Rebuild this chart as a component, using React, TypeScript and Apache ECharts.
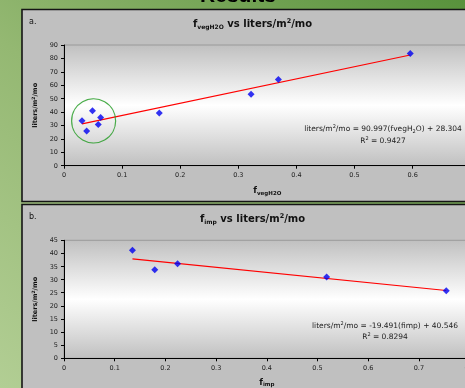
import { useEffect, useRef } from "react";
import * as echarts from "echarts";

const W = 465;
const H = 388;
const FONT = "DejaVu Sans";

// ---------- Panel a: f_vegH2O vs liters/m2/mo ----------
const vegFraction = [0.031, 0.039, 0.049, 0.059, 0.063, 0.164, 0.322, 0.369, 0.596];
const vegLiters = [33.5, 25.8, 41.0, 30.8, 36.0, 39.3, 53.2, 64.3, 83.7];
const vegFit = [90.997, 28.304]; // slope, intercept
const vegR2 = "0.9427";
const vegCluster = [0.051, 33.4];
const vegXRange = [0, 0.7, 0.1];
const vegYRange = [0, 90, 10];

// ---------- Panel b: f_imp vs liters/m2/mo ----------
const impFraction = [0.135, 0.179, 0.224, 0.518, 0.754];
const impLiters = [41.2, 33.8, 36.1, 31.0, 25.8];
const impFit = [-19.491, 40.546];
const impR2 = "0.8294";
const impXRange = [0, 0.8, 0.1];
const impYRange = [0, 45, 5];

const fitLine = (xs: number[], fit: number[]) => {
  const lo = Math.min(...xs);
  const hi = Math.max(...xs);
  return [
    [lo, fit[0] * lo + fit[1]],
    [hi, fit[0] * hi + fit[1]],
  ];
};

const tok = (size: number, bold: boolean, extra: any = {}) => ({
  fontSize: size,
  fontFamily: FONT,
  fontWeight: bold ? "bold" : "normal",
  fill: "#111",
  color: "#111",
  ...extra,
});

const titleRich = {
  m: tok(10, true, { lineHeight: 12, verticalAlign: "middle" }),
  sub: tok(6, true, { lineHeight: 7, verticalAlign: "bottom" }),
  sup: tok(6.5, true, { lineHeight: 7, verticalAlign: "top" }),
};

const eqRich = {
  n: tok(7.5, false, { lineHeight: 10, verticalAlign: "middle", fill: "#222", color: "#222" }),
  sub: tok(5, false, { lineHeight: 6, verticalAlign: "bottom", fill: "#222", color: "#222" }),
  sup: tok(5, false, { lineHeight: 6, verticalAlign: "top", fill: "#222", color: "#222" }),
};

const yNameRich = {
  n: tok(6.5, true, { lineHeight: 9, verticalAlign: "middle" }),
  sup: tok(4.5, true, { lineHeight: 5, verticalAlign: "top" }),
};

const xNameRich = {
  f: tok(8.5, true, { lineHeight: 11, verticalAlign: "middle" }),
  s: tok(5.5, true, { lineHeight: 6, verticalAlign: "bottom" }),
};

const plotBg = () =>
  new echarts.graphic.LinearGradient(0, 0, 0, 1, [
    { offset: 0, color: "#c0c0c0" },
    { offset: 0.5, color: "#ffffff" },
    { offset: 1, color: "#c0c0c0" },
  ]);

const fmt = (v: number) => String(Math.round(v * 10) / 10);

const valueAxisBase = {
  type: "value" as const,
  splitLine: { show: false },
  axisLine: { show: true, lineStyle: { color: "#000", width: 1 } },
  axisTick: { show: true, length: 3, inside: false, lineStyle: { color: "#000" } },
  axisLabel: { fontSize: 6.5, fontFamily: FONT, color: "#222", margin: 6, formatter: fmt },
};

export default function App() {
  const ref = useRef<HTMLDivElement>(null);

  useEffect(() => {
    if (!ref.current) return;
    const chart = echarts.init(ref.current, undefined, { renderer: "svg" });

    const option: any = {
      animation: false,
      grid: [
        {
          left: 64,
          top: 45,
          width: 406.7,
          height: 120.7,
          containLabel: false,
          outerBoundsMode: "none",
          show: true,
          backgroundColor: plotBg(),
          borderColor: "#9a9a9a",
          borderWidth: 1,
        },
        {
          left: 64,
          top: 240.3,
          width: 405.6,
          height: 118,
          containLabel: false,
          outerBoundsMode: "none",
          show: true,
          backgroundColor: plotBg(),
          borderColor: "#9a9a9a",
          borderWidth: 1,
        },
      ],
      xAxis: [
        {
          ...valueAxisBase,
          gridIndex: 0,
          min: vegXRange[0],
          max: vegXRange[1],
          interval: vegXRange[2],
          name: "{f|f}{s|vegH2O}",
          nameLocation: "middle",
          nameGap: 19,
          nameTextStyle: { rich: xNameRich },
        },
        {
          ...valueAxisBase,
          gridIndex: 1,
          min: impXRange[0],
          max: impXRange[1],
          interval: impXRange[2],
          name: "{f|f}{s|imp}",
          nameLocation: "middle",
          nameGap: 18,
          nameTextStyle: { rich: xNameRich },
        },
      ],
      yAxis: [
        {
          ...valueAxisBase,
          gridIndex: 0,
          min: vegYRange[0],
          max: vegYRange[1],
          interval: vegYRange[2],
          name: "{n|liters/m}{sup|2}{n|/mo}",
          nameLocation: "middle",
          nameRotate: 90,
          nameGap: 20,
          nameTextStyle: { rich: yNameRich },
        },
        {
          ...valueAxisBase,
          gridIndex: 1,
          min: impYRange[0],
          max: impYRange[1],
          interval: impYRange[2],
          name: "{n|liters/m}{sup|2}{n|/mo}",
          nameLocation: "middle",
          nameRotate: 90,
          nameGap: 20,
          nameTextStyle: { rich: yNameRich },
        },
      ],
      series: [
        {
          type: "line",
          xAxisIndex: 0,
          yAxisIndex: 0,
          data: fitLine(vegFraction, vegFit),
          symbol: "none",
          lineStyle: { color: "#ff0000", width: 1.2 },
          z: 3,
        },
        {
          type: "scatter",
          xAxisIndex: 0,
          yAxisIndex: 0,
          data: vegFraction.map((x, i) => [x, vegLiters[i]]),
          symbol: "diamond",
          symbolSize: 7,
          itemStyle: { color: "#0000f0" },
          z: 4,
        },
        {
          type: "scatter",
          xAxisIndex: 0,
          yAxisIndex: 0,
          data: [vegCluster],
          symbol: "circle",
          symbolSize: 44,
          itemStyle: { color: "rgba(0,0,0,0)", borderColor: "#1f9a1f", borderWidth: 1.2 },
          z: 5,
        },
        {
          type: "line",
          xAxisIndex: 1,
          yAxisIndex: 1,
          data: fitLine(impFraction, impFit),
          symbol: "none",
          lineStyle: { color: "#ff0000", width: 1.2 },
          z: 3,
        },
        {
          type: "scatter",
          xAxisIndex: 1,
          yAxisIndex: 1,
          data: impFraction.map((x, i) => [x, impLiters[i]]),
          symbol: "diamond",
          symbolSize: 7,
          itemStyle: { color: "#0000f0" },
          z: 4,
        },
      ],
      graphic: [
        {
          type: "rect",
          z: -20,
          silent: true,
          shape: { x: 0, y: 0, width: W, height: H },
          style: {
            fill: new echarts.graphic.LinearGradient(0, 1, 1, 0, [
              { offset: 0, color: "#b2ce94" },
              { offset: 0.45, color: "#94b872" },
              { offset: 1, color: "#58923c" },
            ]),
          },
        },
        {
          type: "text",
          z: -15,
          silent: true,
          x: 238,
          y: 5,
          style: {
            text: "Results",
            align: "center",
            verticalAlign: "bottom",
            fontSize: 21,
            fontWeight: "bold",
            fontFamily: "Liberation Sans",
            fill: "#000",
          },
        },
        {
          type: "rect",
          z: -10,
          silent: true,
          shape: { x: 22, y: 9.5, width: 470, height: 192 },
          style: { fill: "#c0c0c0", stroke: "#151515", lineWidth: 1.6 },
        },
        {
          type: "rect",
          z: -10,
          silent: true,
          shape: { x: 22, y: 204.5, width: 470, height: 200 },
          style: { fill: "#c0c0c0", stroke: "#151515", lineWidth: 1.6 },
        },
        {
          type: "text",
          z: 10,
          x: 29,
          y: 21,
          style: { text: "a.", verticalAlign: "middle", fontSize: 8, fontFamily: FONT, fill: "#111" },
        },
        {
          type: "text",
          z: 10,
          x: 29,
          y: 216,
          style: { text: "b.", verticalAlign: "middle", fontSize: 8, fontFamily: FONT, fill: "#111" },
        },
        {
          type: "text",
          z: 10,
          x: 252.5,
          y: 23,
          style: {
            text: "{m|f}{sub|vegH2O}{m| vs liters/m}{sup|2}{m|/mo}",
            align: "center",
            verticalAlign: "middle",
            rich: titleRich,
          },
        },
        {
          type: "text",
          z: 10,
          x: 252.5,
          y: 218,
          style: {
            text: "{m|f}{sub|imp}{m| vs liters/m}{sup|2}{m|/mo}",
            align: "center",
            verticalAlign: "middle",
            rich: titleRich,
          },
        },
        {
          type: "text",
          z: 10,
          x: 383,
          y: 128,
          style: {
            text: `{n|liters/m}{sup|2}{n|/mo = ${vegFit[0]}(fvegH}{sub|2}{n|O) + ${vegFit[1]}}`,
            align: "center",
            verticalAlign: "middle",
            rich: eqRich,
          },
        },
        {
          type: "text",
          z: 10,
          x: 383,
          y: 140,
          style: {
            text: `{n|R}{sup|2}{n| = ${vegR2}}`,
            align: "center",
            verticalAlign: "middle",
            rich: eqRich,
          },
        },
        {
          type: "text",
          z: 10,
          x: 385,
          y: 325,
          style: {
            text: `{n|liters/m}{sup|2}{n|/mo = ${impFit[0]}(fimp) + ${impFit[1]}}`,
            align: "center",
            verticalAlign: "middle",
            rich: eqRich,
          },
        },
        {
          type: "text",
          z: 10,
          x: 385,
          y: 336,
          style: {
            text: `{n|R}{sup|2}{n| = ${impR2}}`,
            align: "center",
            verticalAlign: "middle",
            rich: eqRich,
          },
        },
      ],
    };

    chart.setOption(option);
    return () => chart.dispose();
  }, []);

  return (
    <div
      ref={ref}
      style={{ position: "fixed", left: 0, top: 0, width: W, height: H, overflow: "hidden" }}
    />
  );
}
